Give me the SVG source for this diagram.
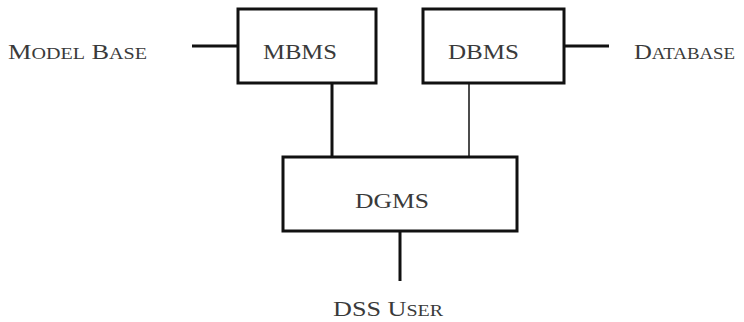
<svg xmlns="http://www.w3.org/2000/svg" width="744" height="322" viewBox="0 0 744 322">
<style>
.box{fill:#fff;stroke:#111;stroke-width:3}
.ln{stroke:#111;stroke-width:3;fill:none}
.thin{stroke:#111;stroke-width:1.5;fill:none}
text{font-family:"Liberation Serif","Times New Roman",serif;font-size:21px;fill:#3a3a3a}
.sc{font-size:16px}
</style>
<rect width="744" height="322" fill="#fff"/>
<g id="connectors">
<line class="ln" x1="192" y1="46" x2="238" y2="46"/>
<line class="ln" x1="564" y1="46" x2="609" y2="46"/>
<line class="ln" x1="332" y1="83" x2="332" y2="157"/>
<line class="thin" x1="469" y1="83" x2="469" y2="157"/>
<line class="ln" x1="400" y1="231" x2="400" y2="281"/>
</g>
<g id="mbms">
<rect class="box" x="238" y="9" width="138" height="74"/>
<text x="263" y="59" textLength="74" lengthAdjust="spacingAndGlyphs">MBMS</text>
</g>
<g id="dbms">
<rect class="box" x="423" y="9" width="141" height="74"/>
<text x="448" y="59" textLength="71" lengthAdjust="spacingAndGlyphs">DBMS</text>
</g>
<g id="dgms">
<rect class="box" x="283" y="157" width="234" height="74"/>
<text x="355" y="208" textLength="74" lengthAdjust="spacingAndGlyphs">DGMS</text>
</g>
<g id="model-base">
<text x="8" y="59" textLength="139" lengthAdjust="spacingAndGlyphs">M<tspan class="sc">ODEL</tspan> B<tspan class="sc">ASE</tspan></text>
</g>
<g id="database">
<text x="634" y="59" textLength="101" lengthAdjust="spacingAndGlyphs">D<tspan class="sc">ATABASE</tspan></text>
</g>
<g id="dss-user">
<text x="333" y="316" textLength="110" lengthAdjust="spacingAndGlyphs">DSS U<tspan class="sc">SER</tspan></text>
</g>
</svg>
